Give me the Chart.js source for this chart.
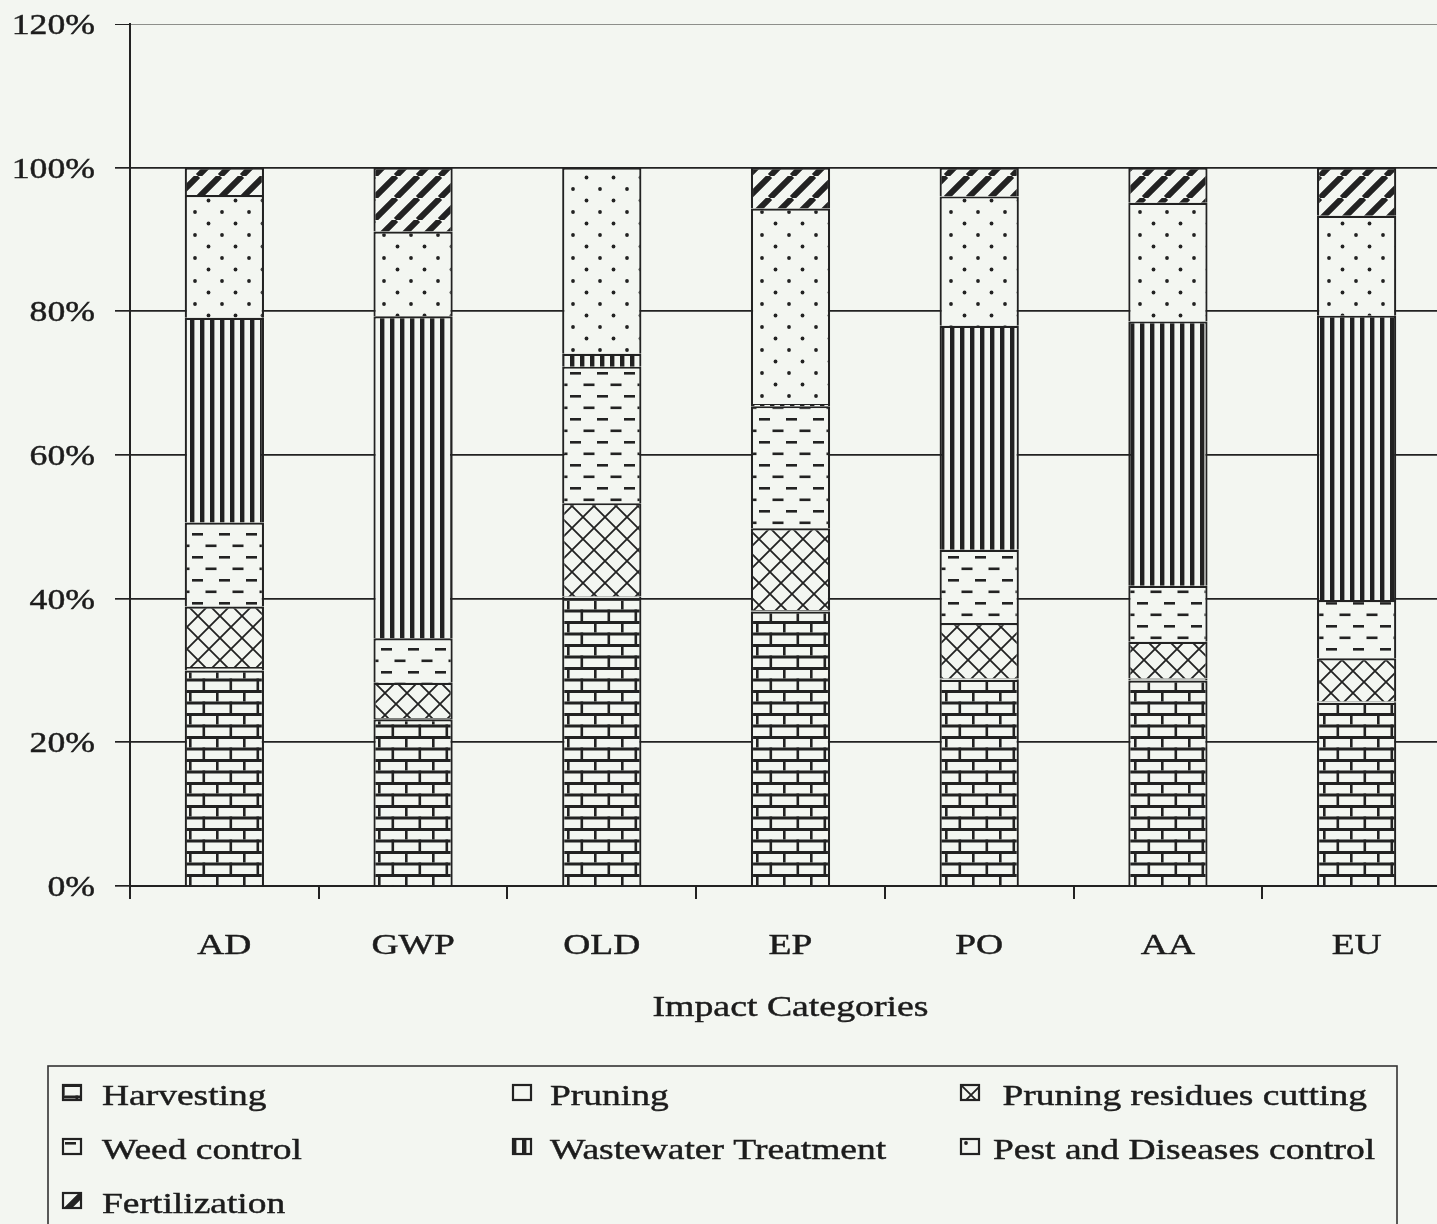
<!DOCTYPE html>
<html>
<head>
<meta charset="utf-8">
<title>Impact Categories</title>
<script src="https://cdn.jsdelivr.net/npm/chart.js@4.4.1/dist/chart.umd.min.js"></script>
<style>
  html, body { margin: 0; padding: 0; background: #f3f6f1; overflow: hidden; }
  #wrap { width: 1460px; height: 1224px; }
</style>
</head>
<body>
<div id="wrap"><canvas id="chart" width="1460" height="1224"></canvas></div>
<script>
// Share of each field operation in every impact category (%)
const categories = ['AD', 'GWP', 'OLD', 'EP', 'PO', 'AA', 'EU'];
const harvesting      = [30.0, 23.2, 40.1, 38.2, 28.7, 28.6, 25.5];
const pruning         = [0.5, 0.2, 0.2, 0.2, 0.2, 0.3, 0.2];
const residuesCutting = [8.4, 4.9, 13.0, 11.4, 7.7, 5.1, 6.0];
const weedControl     = [11.7, 6.2, 19.0, 17.0, 10.2, 7.8, 8.1];
const wastewater      = [28.5, 44.8, 1.8, 0.3, 31.2, 36.8, 39.6];
const pestControl     = [17.1, 11.8, 25.9, 27.2, 18.0, 16.5, 13.9];
const fertilization   = [3.8, 8.9, 0.0, 5.7, 4.0, 4.9, 6.7];
const seriesNames = ['Harvesting', 'Pruning', ' Pruning residues cutting', 'Weed control',
                     'Wastewater Treatment', 'Pest and Diseases control', 'Fertilization'];
const yTickLabels = ['0%', '20%', '40%', '60%', '80%', '100%', '120%'];
const xTitle = 'Impact Categories';

const BG = '#f3f6f1';
const INK = '#222222';
const TEXT = '#1c1c1c';
const SERIF = '"Liberation Serif", "Times New Roman", serif';

// ---- fill patterns -------------------------------------------------------
function makeTile(w, h, draw) {
  const c = document.createElement('canvas');
  c.width = w; c.height = h;
  const g = c.getContext('2d');
  g.fillStyle = BG; g.fillRect(0, 0, w, h);
  g.fillStyle = INK; g.strokeStyle = INK;
  draw(g, w, h);
  return c;
}
const tiles = {
  brick: makeTile(27, 23, (g, w) => {
    g.fillRect(0, 0, w, 3);
    g.fillRect(0, 11.5, w, 3);
    g.fillRect(0, 0, 2.6, 11.5);
    g.fillRect(13.5, 11.5, 2.6, 11.5);
  }),
  plain: makeTile(4, 4, () => {}),
  cross: makeTile(22, 22, (g, w, h) => {
    g.lineWidth = 1.8;
    g.beginPath();
    for (let k = -1; k <= 1; k++) {
      g.moveTo(k * w, 0); g.lineTo(k * w + w, h);
      g.moveTo(k * w, h); g.lineTo(k * w + w, 0);
    }
    g.stroke();
  }),
  dash: makeTile(27, 23, (g) => {
    g.fillRect(3, 4, 11, 2.6);
    g.fillRect(16.5, 15.5, 11, 2.6);
    g.fillRect(-10.5, 15.5, 11, 2.6);
  }),
  vline: makeTile(10, 8, (g, w, h) => {
    g.fillRect(0, 0, 4.4, h);
  }),
  dots: makeTile(27, 23, (g) => {
    g.beginPath(); g.arc(6, 5, 1.9, 0, Math.PI * 2); g.fill();
    g.beginPath(); g.arc(19.5, 16.5, 1.9, 0, Math.PI * 2); g.fill();
  }),
  diag: makeTile(22, 22, (g, w, h) => {
    g.lineWidth = 6;
    g.beginPath();
    for (let k = -1; k <= 1; k++) {
      g.moveTo(k * w, h); g.lineTo(k * w + w, 0);
    }
    g.stroke();
  })
};
const ctx = document.getElementById('chart').getContext('2d');
const pat = key => ctx.createPattern(tiles[key], 'repeat');
const fills = [pat('brick'), pat('plain'), pat('cross'), pat('dash'), pat('vline'), pat('dots'), pat('diag')];
const seriesValues = [harvesting, pruning, residuesCutting, weedControl, wastewater, pestControl, fertilization];

const datasets = seriesNames.map((name, i) => ({
  label: name,
  data: seriesValues[i],
  backgroundColor: fills[i],
  borderColor: INK,
  borderWidth: 2.2,
  borderSkipped: 'start',
  barPercentage: 0.42,
  categoryPercentage: 1.0
}));

// horizontally widened serif text
function wideText(c, text, x, y, align, sx) {
  c.save();
  c.translate(x, y);
  c.scale(sx, 1);
  c.textAlign = align;
  c.textBaseline = 'alphabetic';
  c.fillText(text, 0, 0);
  c.strokeText(text, 0, 0);
  c.restore();
}

const textLayer = {
  id: 'textLayer',
  afterDraw(chart) {
    const c = chart.ctx;
    const xs = chart.scales.x, ys = chart.scales.y, area = chart.chartArea;
    c.save();
    c.fillStyle = TEXT;
    c.strokeStyle = TEXT;
    c.lineWidth = 0.45;
    c.font = '30px ' + SERIF;
    // value axis labels
    ys.ticks.forEach((t, i) => {
      wideText(c, yTickLabels[i], 95, ys.getPixelForValue(t.value) + 10, 'right', 1.19);
    });
    // category labels
    categories.forEach((cat, i) => {
      wideText(c, cat, xs.getPixelForValue(i), area.bottom + 68, 'center', 1.25);
    });
    // axis title
    wideText(c, xTitle, (area.left + area.right) / 2, area.bottom + 130, 'center', 1.26);

    // legend box
    const box = { x: 48, y: 1066, w: 1349, h: 200 };
    c.save();
    c.strokeStyle = '#333333';
    c.lineWidth = 1.6;
    c.strokeRect(box.x, box.y, box.w, box.h);
    c.restore();
    const iconX = [62, 512, 960];
    const textX = [102, 550, 993];
    const rowBase = [1105, 1159, 1213];
    chart.data.datasets.forEach((ds, i) => {
      const col = i % 3, row = Math.floor(i / 3);
      const bx = iconX[col], by = rowBase[row] - 21;
      c.save();
      c.translate(bx, by);
      c.fillStyle = ds.backgroundColor;
      c.fillRect(0, 0, 20, 17);
      c.strokeStyle = INK;
      c.lineWidth = 2.2;
      c.strokeRect(1, 1, 18, 15);
      c.restore();
      wideText(c, ds.label, textX[col], rowBase[row], 'left', 1.25);
    });
    c.restore();
  }
};

new Chart(ctx, {
  type: 'bar',
  data: { labels: categories, datasets },
  plugins: [textLayer],
  options: {
    responsive: false,
    animation: false,
    layout: { padding: { top: 24, right: 9, bottom: 0, left: 0 } },
    plugins: { legend: { display: false }, tooltip: { enabled: false } },
    scales: {
      x: {
        stacked: true,
        offset: true,
        grid: { display: true, offset: true, drawOnChartArea: false, drawTicks: true,
                tickLength: 13, color: INK, lineWidth: 2 },
        border: { display: true, color: INK, width: 2 },
        ticks: { display: false },
        afterFit: s => { s.height = 1224 - 886; }
      },
      y: {
        stacked: true,
        min: 0,
        max: 120,
        ticks: { display: false, stepSize: 20, callback: (v, i) => yTickLabels[i] },
        grid: {
          drawTicks: true,
          tickLength: 15,
          tickColor: INK,
          color: c => (c.tick && c.tick.value === 120) ? '#8d8f8b' : INK,
          lineWidth: c => (c.tick && c.tick.value === 120) ? 1 : 1.7
        },
        border: { display: true, color: INK, width: 2 },
        afterFit: s => { s.width = 130; }
      }
    }
  }
});
</script>
</body>
</html>
